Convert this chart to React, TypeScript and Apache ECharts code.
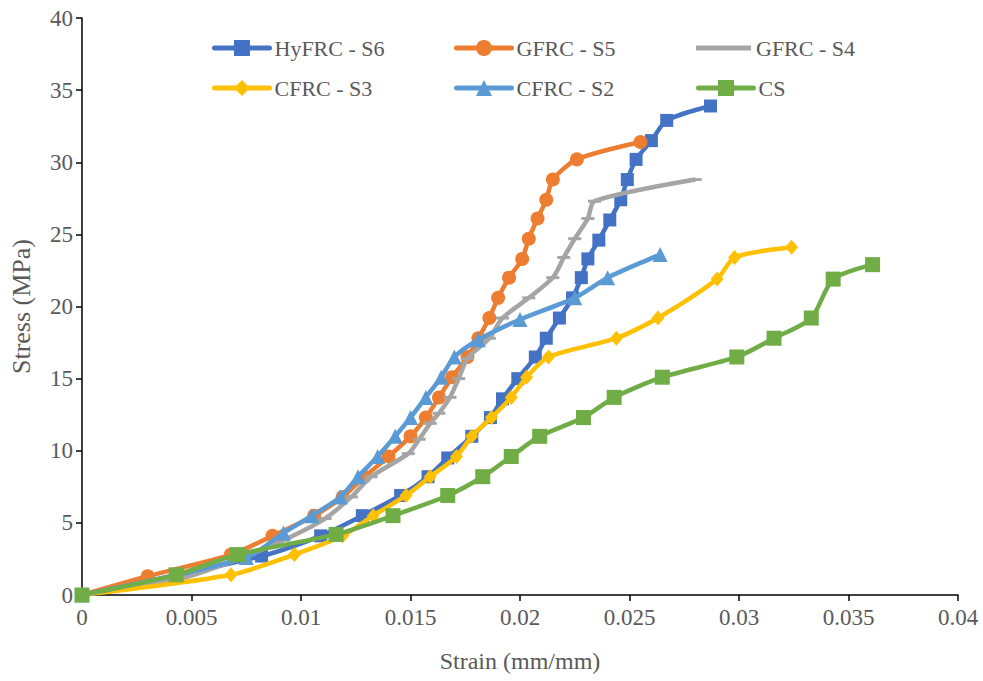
import React, { useEffect, useRef } from "react";
import * as echarts from "echarts";

// HyFRC - S6
const s6Strain = [0, 0.0082, 0.0109, 0.0128, 0.01455, 0.0158, 0.0167, 0.0178, 0.01865, 0.0192, 0.0199, 0.0207, 0.0212, 0.0218, 0.0224, 0.0228, 0.0231, 0.0236, 0.0241, 0.0246, 0.0249, 0.0253, 0.0260, 0.0267, 0.0287];
const s6Stress = [0, 2.7, 4.1, 5.5, 6.9, 8.2, 9.5, 11.0, 12.3, 13.6, 15.0, 16.5, 17.8, 19.2, 20.6, 22.0, 23.3, 24.6, 26.0, 27.4, 28.8, 30.2, 31.5, 32.9, 33.9];

// GFRC - S5
const s5Strain = [0, 0.0030, 0.0068, 0.0087, 0.0106, 0.0119, 0.0129, 0.0140, 0.0150, 0.0157, 0.0163, 0.0169, 0.0176, 0.0181, 0.0186, 0.0190, 0.0195, 0.0201, 0.0204, 0.0208, 0.0212, 0.0215, 0.0226, 0.0255];
const s5Stress = [0, 1.3, 2.8, 4.1, 5.5, 6.8, 8.2, 9.6, 11.0, 12.3, 13.7, 15.1, 16.5, 17.8, 19.2, 20.6, 22.0, 23.3, 24.7, 26.1, 27.4, 28.8, 30.2, 31.4];

// GFRC - S4
const s4Strain = [0, 0.0044, 0.0070, 0.0092, 0.0111, 0.0123, 0.0132, 0.0149, 0.0154, 0.0159, 0.0163, 0.0168, 0.0172, 0.0176, 0.0186, 0.0192, 0.0204, 0.0215, 0.0220, 0.0225, 0.0231, 0.0234, 0.0280];
const s4Stress = [0, 1.1, 2.4, 3.8, 5.3, 6.8, 8.2, 9.8, 10.8, 11.9, 12.6, 13.7, 15.0, 16.4, 17.8, 19.2, 20.6, 22.0, 23.4, 24.7, 26.1, 27.3, 28.8];

// CFRC - S3
const s3Strain = [0, 0.0068, 0.0097, 0.0119, 0.0133, 0.0148, 0.0159, 0.0171, 0.0178, 0.0187, 0.0196, 0.0203, 0.0213, 0.0244, 0.0263, 0.0290, 0.0298, 0.0324];
const s3Stress = [0, 1.4, 2.8, 4.1, 5.5, 6.9, 8.2, 9.6, 11.0, 12.3, 13.7, 15.1, 16.5, 17.8, 19.2, 21.9, 23.4, 24.1];

// CFRC - S2
const s2Strain = [0, 0.0075, 0.0092, 0.0105, 0.0118, 0.0126, 0.0135, 0.0143, 0.0150, 0.0157, 0.0164, 0.0170, 0.0181, 0.0200, 0.0225, 0.0240, 0.0264];
const s2Stress = [0, 2.6, 4.3, 5.5, 6.8, 8.2, 9.6, 11.0, 12.3, 13.7, 15.1, 16.5, 17.7, 19.1, 20.6, 22.0, 23.6];

// CS
const csStrain = [0, 0.0043, 0.0071, 0.0116, 0.0142, 0.0167, 0.0183, 0.0196, 0.0209, 0.0229, 0.0243, 0.0265, 0.0299, 0.0316, 0.0333, 0.0343, 0.0361];
const csStress = [0, 1.4, 2.8, 4.2, 5.5, 6.9, 8.2, 9.6, 11.0, 12.3, 13.7, 15.1, 16.5, 17.8, 19.2, 21.9, 22.9];

const seriesNames = ["HyFRC - S6", "GFRC - S5", "GFRC - S4", "CFRC - S3", "CFRC - S2", "CS"];
const colors = ["#4472C4", "#ED7D31", "#A5A5A5", "#FFC000", "#5B9BD5", "#70AD47"];

const FONT = "Liberation Serif, Times New Roman, serif";
const TXT = "#595959";

function pairs(xs: number[], ys: number[]) {
  return xs.map((x, i) => [x, ys[i]]);
}

export default function App() {
  const ref = useRef<HTMLDivElement>(null);
  useEffect(() => {
    if (!ref.current) return;
    const chart = echarts.init(ref.current, undefined, { renderer: "svg" });
    const datasets = [
      pairs(s6Strain, s6Stress),
      pairs(s5Strain, s5Stress),
      pairs(s4Strain, s4Stress),
      pairs(s3Strain, s3Stress),
      pairs(s2Strain, s2Stress),
      pairs(csStrain, csStress),
    ];
    const symbols: any[] = ["rect", "circle", "rect", "diamond", "triangle", "rect"];
    const sizes: any[] = [13, 14, [13, 3], [13, 15], 15, 15];
    const legendPos = [
      { left: 207, top: 30 },
      { left: 449, top: 30 },
      { left: 691, top: 30 },
      { left: 207, top: 70 },
      { left: 449, top: 70 },
      { left: 691, top: 70 },
    ];
    chart.setOption({
      animation: false,
      backgroundColor: "#ffffff",
      grid: { left: 81, right: 25, top: 18, bottom: 86, containLabel: false },
      legend: seriesNames.map((n, i) => ({
        data: i === 2 ? [{ name: n, icon: "path://M0,0 L100,0 L100,9 L0,9 Z" }] : [n],
        left: legendPos[i].left,
        top: legendPos[i].top,
        itemWidth: 55,
        itemHeight: i === 2 ? 5 : 20,
        itemGap: 5,
        lineStyle: { width: 5, cap: "round" },
        textStyle: { fontFamily: FONT, fontSize: 22, color: TXT, lineHeight: 26 },
        selectedMode: false,
      })),
      xAxis: {
        type: "value",
        min: 0,
        max: 0.04,
        interval: 0.005,
        name: "Strain (mm/mm)",
        nameLocation: "middle",
        nameGap: 54,
        nameTextStyle: { fontFamily: FONT, fontSize: 24, color: TXT },
        axisLine: { show: true, lineStyle: { color: "#000", width: 1.5 } },
        axisTick: { show: true, inside: false, length: 6, lineStyle: { color: "#000", width: 1.5 } },
        axisLabel: {
          fontFamily: FONT,
          fontSize: 23,
          color: TXT,
          margin: 11,
          formatter: (v: number) => String(+v.toFixed(3)),
        },
        splitLine: { show: false },
      },
      yAxis: {
        type: "value",
        min: 0,
        max: 40,
        interval: 5,
        name: "Stress (MPa)",
        nameLocation: "middle",
        nameGap: 48,
        nameTextStyle: { fontFamily: FONT, fontSize: 26, color: TXT },
        axisLine: { show: true, lineStyle: { color: "#000", width: 1.5 } },
        axisTick: { show: true, inside: false, length: 6, lineStyle: { color: "#000", width: 1.5 } },
        axisLabel: { fontFamily: FONT, fontSize: 23, color: TXT, margin: 9 },
        splitLine: { show: false },
      },
      series: datasets.map((d, i) => ({
        name: seriesNames[i],
        type: "line",
        data: d,
        smooth: 0.25,
        symbol: symbols[i],
        symbolSize: sizes[i],
        showAllSymbol: true,
        lineStyle: { color: colors[i], width: 4.5 },
        itemStyle: { color: colors[i], borderWidth: 0 },
        z: 2 + i,
      })),
    });
    return () => chart.dispose();
  }, []);
  return <div ref={ref} style={{ width: 983, height: 681, position: "absolute", left: 0, top: 0 }} />;
}
